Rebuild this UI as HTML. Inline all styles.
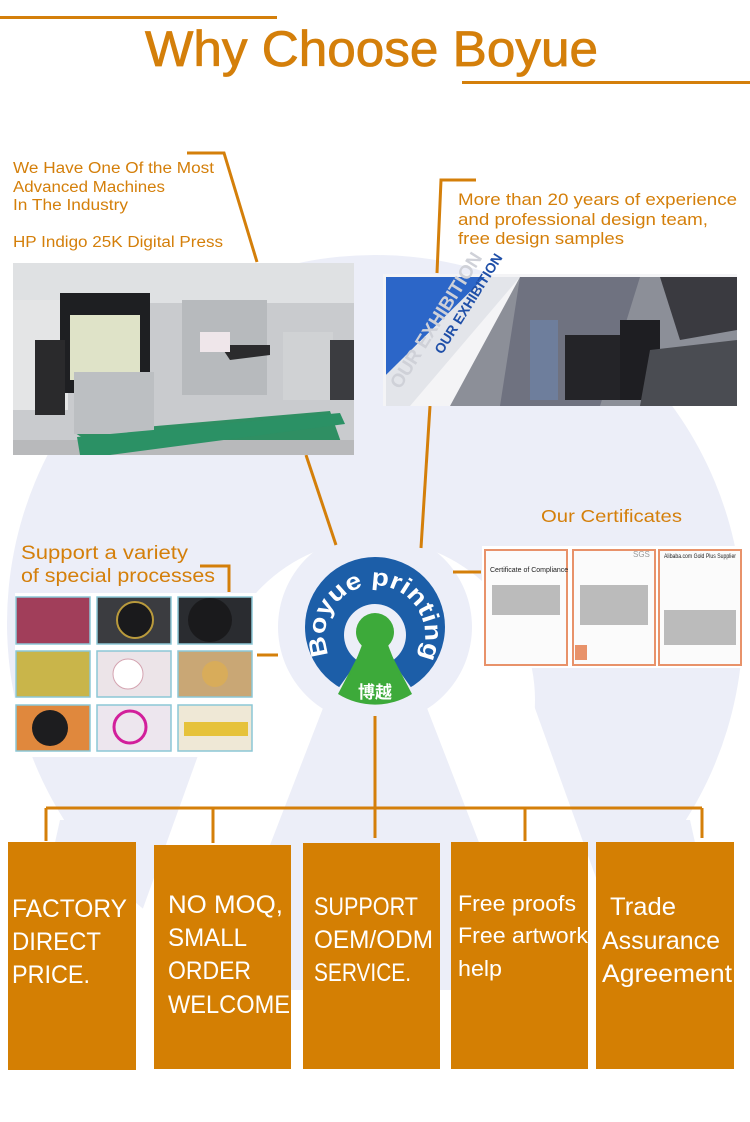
<!DOCTYPE html>
<html><head><meta charset="utf-8"><style>
html,body{margin:0;padding:0;background:#fff}
svg{display:block}
text{font-family:"Liberation Sans","Noto Sans CJK SC",sans-serif}
</style></head><body>
<svg width="750" height="1122" viewBox="0 0 750 1122" xmlns="http://www.w3.org/2000/svg">
<!-- background watermark -->
<circle cx="375" cy="623" r="368" fill="#eceef8"/>
<circle cx="375" cy="700" r="160" fill="#fff"/>
<polygon points="218,700 532,700 640,1000 110,1000" fill="#fff"/>
<polygon points="330,690 420,690 540,1000 210,1000" fill="#eceef8"/>
<polygon points="60,820 130,820 110,1000 20,1000" fill="#eceef8"/>
<polygon points="620,820 690,820 730,1000 640,1000" fill="#eceef8"/>
<rect x="0" y="990" width="750" height="132" fill="#fff"/>
<circle cx="375" cy="627" r="97" fill="#eceef8"/>

<!-- title -->
<rect x="0" y="16" width="277" height="3" fill="#d47f0a"/>
<rect x="462" y="81" width="288" height="3" fill="#d47f0a"/>
<text x="145" y="66" font-size="50" fill="#d47f0a" stroke="#d47f0a" stroke-width="0.8" textLength="453" lengthAdjust="spacingAndGlyphs">Why Choose Boyue</text>

<!-- left top text -->
<g fill="#d47f0a" font-size="15.5">
<text x="13" y="173" textLength="201" lengthAdjust="spacingAndGlyphs">We Have One Of the Most</text>
<text x="13" y="192" textLength="152" lengthAdjust="spacingAndGlyphs">Advanced Machines</text>
<text x="13" y="210" textLength="115" lengthAdjust="spacingAndGlyphs">In The Industry</text>
<text x="13" y="247" textLength="210" lengthAdjust="spacingAndGlyphs">HP Indigo 25K Digital Press</text>
</g>
<g fill="#d47f0a" font-size="16.5">
<text x="458" y="205" textLength="279" lengthAdjust="spacingAndGlyphs">More than 20 years of experience</text>
<text x="458" y="225" textLength="250" lengthAdjust="spacingAndGlyphs">and professional design team,</text>
<text x="458" y="244" textLength="166" lengthAdjust="spacingAndGlyphs">free design samples</text>
<text x="541" y="522" font-size="17.5" textLength="141" lengthAdjust="spacingAndGlyphs">Our Certificates</text>
<text x="21" y="559" font-size="19" textLength="167" lengthAdjust="spacingAndGlyphs">Support a variety</text>
<text x="21" y="582" font-size="19" textLength="194" lengthAdjust="spacingAndGlyphs">of special processes</text>
</g>

<!-- connectors -->
<g stroke="#d47f0a" stroke-width="3" fill="none">
<polyline points="187,153 224,153 257,262"/>
<line x1="306" y1="455" x2="336" y2="545"/>
<polyline points="476,180 441,180 437,273"/>
<line x1="430" y1="406" x2="421" y2="548"/>
<line x1="453" y1="572" x2="481" y2="572"/>
<polyline points="200,566 229,566 229,592"/>
<line x1="257" y1="655" x2="278" y2="655"/>
<line x1="375" y1="716" x2="375" y2="838"/>
<line x1="46" y1="808" x2="702" y2="808"/>
<line x1="46" y1="808" x2="46" y2="841"/>
<line x1="213" y1="808" x2="213" y2="843"/>
<line x1="525" y1="808" x2="525" y2="841"/>
<line x1="702" y1="808" x2="702" y2="838"/>
</g>

<!-- machine photo -->
<rect x="13" y="263" width="341" height="192" fill="#c9cbce"/>
<rect x="13" y="263" width="341" height="40" fill="#dfe1e3"/>
<rect x="13" y="300" width="55" height="110" fill="#e4e5e6"/>
<rect x="60" y="293" width="90" height="100" fill="#1e1f22"/>
<rect x="70" y="315" width="70" height="65" fill="#dfe3c8"/>
<rect x="35" y="340" width="30" height="75" fill="#2a2a2c"/>
<polygon points="75,433 330,411 342,445 110,455" fill="#2f8f63"/>
<rect x="74" y="372" width="80" height="62" fill="#bcbfc2"/>
<rect x="182" y="300" width="85" height="95" fill="#b7babd"/>
<polygon points="220,345 270,345 270,355 230,360" fill="#2b2b2d"/>
<rect x="200" y="332" width="30" height="20" fill="#efe6ea"/>
<rect x="283" y="332" width="50" height="68" fill="#d0d2d4"/>
<rect x="330" y="340" width="24" height="60" fill="#3b3c40"/>
<rect x="13" y="440" width="341" height="15" fill="#b8b9bb"/>
<polygon points="77,437 340,413 345,424 110,455 80,455" fill="#2b9165"/>

<!-- exhibition photo -->
<rect x="383" y="274" width="354" height="132" fill="#f4f4f6"/>
<polygon points="386,277 485,277 386,375" fill="#2c66c8"/>
<polygon points="485,277 520,277 410,406 386,406 386,375" fill="#e3e5ea"/>
<polygon points="520,277 737,277 737,406 450,406" fill="#8c8f98"/>
<polygon points="520,277 640,277 600,406 500,406" fill="#6f7280"/>
<rect x="530" y="320" width="28" height="80" fill="#6e7e9c"/>
<rect x="565" y="335" width="70" height="65" fill="#242428"/>
<rect x="620" y="320" width="40" height="80" fill="#1e1e22"/>
<polygon points="660,277 737,277 737,330 680,340" fill="#3a3a40"/>
<polygon points="650,350 737,340 737,406 640,406" fill="#4a4c52"/>
<text x="442" y="355" font-size="14" fill="#1f4fa8" font-weight="bold" transform="rotate(-58 442 355)">OUR EXHIBITION</text>
<text x="400" y="390" font-size="19" fill="#cfd1d8" font-weight="bold" transform="rotate(-58 400 390)">OUR EXHIBITION</text>

<!-- certificates -->
<rect x="482" y="546" width="262" height="122" fill="#fff"/>
<g stroke="#e8926a" stroke-width="2" fill="#fbfbfb">
<rect x="485" y="550" width="82" height="115"/>
<rect x="573" y="550" width="82" height="115"/>
<rect x="659" y="550" width="82" height="115"/>
</g>
<g fill="#bbb">
<rect x="492" y="585" width="68" height="30"/><rect x="580" y="585" width="68" height="40"/><rect x="664" y="610" width="72" height="35"/>
</g>
<rect x="575" y="645" width="12" height="15" fill="#e8926a"/>
<text x="490" y="572" font-size="7" font-family="Liberation Serif" fill="#222">Certificate of Compliance</text>
<text x="664" y="558" font-size="6" font-family="Liberation Serif" fill="#222" textLength="72" lengthAdjust="spacingAndGlyphs">Alibaba.com Gold Plus Supplier</text>
<text x="633" y="557" font-size="8" fill="#999">SGS</text>

<!-- processes grid -->
<rect x="15" y="593" width="241" height="164" fill="#fff"/>
<g stroke="#8cc7d6" stroke-width="1.5">
<rect x="16" y="597" width="74" height="47" fill="#a13e5a"/>
<rect x="97" y="597" width="74" height="47" fill="#3b3c40"/>
<rect x="178" y="597" width="74" height="47" fill="#2a2c30"/>
<rect x="16" y="651" width="74" height="46" fill="#c9b54a"/>
<rect x="97" y="651" width="74" height="46" fill="#ece4e8"/>
<rect x="178" y="651" width="74" height="46" fill="#c9a775"/>
<rect x="16" y="705" width="74" height="46" fill="#e0883d"/>
<rect x="97" y="705" width="74" height="46" fill="#ede6ee"/>
<rect x="178" y="705" width="74" height="46" fill="#efe8d6"/>
</g>
<circle cx="50" cy="728" r="18" fill="#1d1d1f"/>
<circle cx="130" cy="727" r="16" fill="none" stroke="#d21f9b" stroke-width="3"/>
<rect x="184" y="722" width="64" height="14" fill="#e6c23a"/>
<circle cx="135" cy="620" r="18" fill="#1a1a1c" stroke="#b99a3c" stroke-width="2"/>
<circle cx="210" cy="620" r="22" fill="#1a1a1c"/>
<circle cx="215" cy="674" r="13" fill="#d8ac5a"/>
<circle cx="128" cy="674" r="15" fill="#fff" stroke="#d4a3b0"/>

<!-- logo -->
<circle cx="375" cy="627" r="70" fill="#1c5ea8"/>
<polygon points="375,637 330,700 420,700" fill="#eceef8"/>
<circle cx="375" cy="635" r="31" fill="#eceef8"/>
<path d="M338,694 A70,70 0 0,0 412,694 L390,652 L360,652 Z" fill="#3daa3a"/>
<polygon points="362,645 388,645 408,696 342,696" fill="#3daa3a"/>
<circle cx="375" cy="632" r="19" fill="#3daa3a"/>
<defs><path id="arc" d="M329,655 A50,50 0 1,1 421,655"/></defs>
<text font-size="24" font-weight="bold" fill="#fff"><textPath href="#arc" textLength="200" lengthAdjust="spacingAndGlyphs">Boyue printing</textPath></text>
<text x="375" y="698" font-size="17" font-weight="bold" fill="#fff" text-anchor="middle" font-family="Noto Sans CJK SC,sans-serif">博越</text>

<!-- bottom boxes -->
<g fill="#d47f03">
<rect x="8" y="842" width="128" height="228"/>
<rect x="154" y="845" width="137" height="224"/>
<rect x="303" y="843" width="137" height="226"/>
<rect x="451" y="842" width="137" height="227"/>
<rect x="596" y="842" width="138" height="227"/>
</g>
<g fill="#fff" font-size="25">
<text x="12" y="917" textLength="115" lengthAdjust="spacingAndGlyphs">FACTORY</text>
<text x="12" y="950" textLength="89" lengthAdjust="spacingAndGlyphs">DIRECT</text>
<text x="12" y="983" textLength="78" lengthAdjust="spacingAndGlyphs">PRICE.</text>
<text x="168" y="913" textLength="115" lengthAdjust="spacingAndGlyphs">NO MOQ,</text>
<text x="168" y="946" textLength="79" lengthAdjust="spacingAndGlyphs">SMALL</text>
<text x="168" y="979" textLength="83" lengthAdjust="spacingAndGlyphs">ORDER</text>
<text x="168" y="1013" textLength="122" lengthAdjust="spacingAndGlyphs">WELCOME</text>
<text x="314" y="915" textLength="104" lengthAdjust="spacingAndGlyphs">SUPPORT</text>
<text x="314" y="948" textLength="119" lengthAdjust="spacingAndGlyphs">OEM/ODM</text>
<text x="314" y="981" textLength="97" lengthAdjust="spacingAndGlyphs">SERVICE.</text>
<text x="458" y="911" font-size="22" textLength="118" lengthAdjust="spacingAndGlyphs">Free proofs</text>
<text x="458" y="943" font-size="22" textLength="130" lengthAdjust="spacingAndGlyphs">Free artwork</text>
<text x="458" y="976" font-size="22" textLength="44" lengthAdjust="spacingAndGlyphs">help</text>
<text x="610" y="915" textLength="66" lengthAdjust="spacingAndGlyphs">Trade</text>
<text x="602" y="949" textLength="118" lengthAdjust="spacingAndGlyphs">Assurance</text>
<text x="602" y="982" textLength="130" lengthAdjust="spacingAndGlyphs">Agreement</text>
</g>
</svg>
</body></html>
